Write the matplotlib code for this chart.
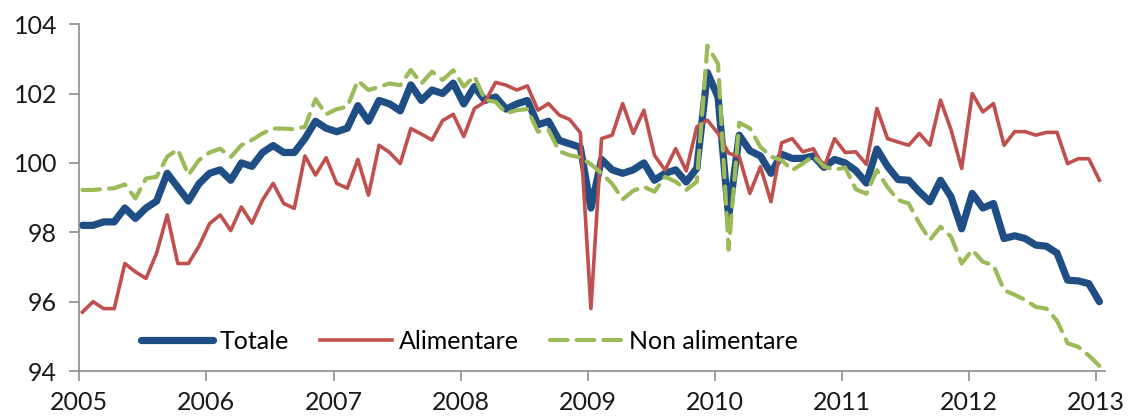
import matplotlib
matplotlib.use("Agg")
import matplotlib.pyplot as plt
import numpy as np

years = [2005, 2006, 2007, 2008, 2009, 2010, 2011, 2012, 2013]

totale = [
    98.2, 98.2, 98.3, 98.3, 98.7, 98.4, 98.7, 98.9, 99.7, 99.3, 98.9, 99.4,
    99.7, 99.8, 99.5, 100.0, 99.9, 100.3, 100.5, 100.3, 100.3, 100.7, 101.2, 101.0,
    100.9, 101.0, 101.65, 101.2, 101.8, 101.7, 101.5, 102.25, 101.8, 102.1, 102.0, 102.3,
    101.7, 102.2, 101.8, 101.9, 101.55, 101.7, 101.8, 101.1, 101.2, 100.65, 100.55, 100.45,
    98.7, 100.1, 99.8, 99.7, 99.8, 100.0, 99.5, 99.7, 99.8, 99.45, 99.85, 102.6,
    101.9, 98.45, 100.8, 100.35, 100.2, 99.7, 100.25, 100.13, 100.13, 100.2, 99.87, 100.1,
    100.0, 99.78, 99.42, 100.4, 99.9, 99.52, 99.5, 99.17, 98.88, 99.5, 99.02, 98.1,
    99.12, 98.7, 98.83, 97.82, 97.9, 97.82, 97.63, 97.6, 97.4, 96.62, 96.6, 96.52,
    96.0,
]

alimentare = [
    95.7, 96.0, 95.8, 95.8, 97.1, 96.86, 96.67, 97.4, 98.5, 97.1, 97.1, 97.6,
    98.25, 98.5, 98.05, 98.73, 98.26, 98.93, 99.41, 98.83, 98.69, 100.2, 99.65, 100.15,
    99.41, 99.27, 100.1, 99.07, 100.51, 100.3, 99.98, 100.99, 100.83, 100.66, 101.22, 101.4,
    100.76, 101.57, 101.76, 102.32, 102.24, 102.1, 102.22, 101.52, 101.71, 101.38, 101.25, 100.87,
    95.8, 100.7, 100.8, 101.71, 100.85, 101.52, 100.22, 99.79, 100.41, 99.77, 101.04, 101.23,
    100.85, 100.28, 100.18, 99.12, 99.89, 98.88, 100.58, 100.7, 100.32, 100.41, 99.86, 100.7,
    100.3, 100.32, 99.96, 101.57, 100.7, 100.6, 100.51, 100.85, 100.51, 101.81, 100.95, 99.84,
    102.0, 101.47, 101.71, 100.51, 100.9, 100.9, 100.8, 100.88, 100.88, 99.98, 100.12, 100.12,
    99.5,
]

non_alimentare = [
    99.22, 99.22, 99.25, 99.27, 99.38, 98.98, 99.55, 99.6, 100.18, 100.39, 99.65, 100.08,
    100.3, 100.41, 100.17, 100.51, 100.66, 100.85, 100.99, 100.99, 100.97, 101.04, 101.84, 101.4,
    101.55, 101.62, 102.37, 102.1, 102.19, 102.29, 102.24, 102.68, 102.29, 102.63, 102.39, 102.67,
    102.2, 102.5, 101.81, 101.76, 101.43, 101.52, 101.55, 100.9, 100.95, 100.34, 100.22, 100.16,
    99.96, 99.7, 99.4, 98.95, 99.2, 99.31, 99.17, 99.6, 99.46, 99.22, 99.46, 103.38,
    102.85, 97.5, 101.16, 101.0, 100.46, 100.18, 100.08, 99.79, 99.98, 100.2, 99.9, 99.8,
    99.87, 99.24, 99.11, 99.79, 99.3, 98.93, 98.83, 98.26, 97.78, 98.16, 97.87, 97.1,
    97.49, 97.15, 97.05, 96.33, 96.2, 96.05, 95.85, 95.8, 95.45, 94.8, 94.7, 94.45,
    94.15,
]

y_ticks = [94, 96, 98, 100, 102, 104]

plt.rcParams['font.family'] = ['Lato', 'DejaVu Sans']

# monthly points, Jan 2005 .. Jan 2013 (plotted slightly into each month)
x = np.array([years[0] + (i + 0.3) / 12 for i in range(len(totale))])

fig = plt.figure(figsize=(11.31, 4.16), dpi=100)
ax = fig.add_axes([0.0701, 0.108, 0.907, 0.834])

ax.plot(x, totale, color='#1F4E84', lw=5.2, solid_capstyle='round', solid_joinstyle='round', label='Totale', zorder=2)
ax.plot(x, alimentare, color='#C0504D', lw=2.6, solid_joinstyle='round', label='Alimentare', zorder=3)
ax.plot(x, non_alimentare, color='#9BBB59', lw=3.0, dashes=(4.2, 2.2), dash_capstyle='round', label='Non alimentare', zorder=4)

ax.set_xlim(years[0], 2013.07)
ax.set_ylim(94, 104)
ax.set_xticks(years)
ax.set_xticklabels([str(y) for y in years])
ax.set_yticks(y_ticks)
ax.set_yticklabels([str(v) for v in y_ticks])

for s in ['top', 'right']:
    ax.spines[s].set_visible(False)
for s in ['left', 'bottom']:
    ax.spines[s].set_color('#8C8C8C')
    ax.spines[s].set_linewidth(1.2)

ax.tick_params(axis='both', colors='#8C8C8C', length=7, width=1.2, direction='out', labelsize=18, labelcolor='#1a1a1a')
ax.tick_params(axis='y', pad=9)
ax.tick_params(axis='x', pad=7)

leg = ax.legend(loc='center', bbox_to_anchor=(0.38, 0.086), ncol=3, frameon=False,
                fontsize=18, handlelength=2.9, columnspacing=1.25, handletextpad=0.25)

fig.savefig('out.png', dpi=100)
